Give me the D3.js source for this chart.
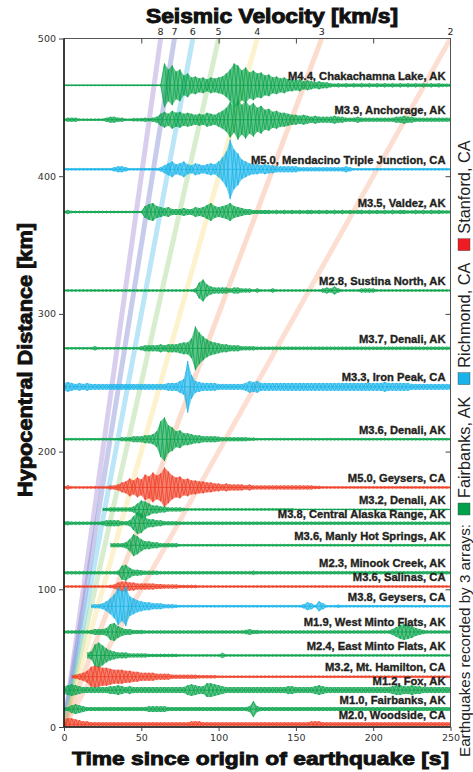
<!DOCTYPE html>
<html>
<head>
<meta charset="utf-8">
<script src="https://cdn.jsdelivr.net/npm/d3@7"></script>
<style>
  body { margin: 0; background: #fff; }
  svg { display: block; }
</style>
</head>
<body>
<svg id="chart" width="473" height="772"></svg>
<script>
// ---- axes ----
const timeTicks = [0, 50, 100, 150, 200, 250];
const distanceTicks = [0, 100, 200, 300, 400, 500];

// ---- apparent-velocity guide lines (km/s) ----
const velocities = [8, 7, 6, 5, 4, 3, 2];
const velocityColors = ["#9a7fd0", "#6f78cc", "#4cbcec", "#96cf7e", "#f6dc7c", "#f6a27c", "#f7a88a"];

// ---- recording arrays ----
const arrayNames = ["Fairbanks, AK", "Richmond, CA", "Stanford, CA"];
const arrayColors = ["#0aa44c", "#18b4ea", "#ef3f26"];
const legendSwatch = ["#00a04a", "#1ab2e8", "#ee1c24"];

// ---- earthquakes ----
const quakeLabels = [
  "M4.4, Chakachamna Lake, AK", "M3.9, Anchorage, AK", "M5.0, Mendacino Triple Junction, CA",
  "M3.5, Valdez, AK", "M2.8, Sustina North, AK", "M3.7, Denali, AK", "M3.3, Iron Peak, CA",
  "M3.6, Denali, AK", "M5.0, Geysers, CA", "M3.2, Denali, AK", "M3.8, Central Alaska Range, AK",
  "M3.6, Manly Hot Springs, AK", "M2.3, Minook Creek, AK", "M3.6, Salinas, CA", "M3.8, Geysers, CA",
  "M1.9, West Minto Flats, AK", "M2.4, East Minto Flats, AK", "M3.2, Mt. Hamilton, CA",
  "M1.2, Fox, AK", "M1.0, Fairbanks, AK", "M2.0, Woodside, CA"
];
const quakeDistances = [466, 441, 405, 374, 317, 275, 247, 209, 174, 158, 148, 132, 112, 102, 87.7, 69, 52, 36.5, 26.8, 13, 2];
const quakeArray = [0, 0, 1, 0, 0, 0, 1, 0, 2, 0, 0, 0, 0, 2, 1, 0, 0, 2, 0, 0, 2];

// Envelope of each seismogram, one character per 2.5 s window (0-9a-zA-Z = 0..61
// amplitude steps, "_" = no recording yet).
const envelopes = [
  "1111111111 1111111111 111111IwEs wkogiegcge giowIEuAqu oqkmgiegcc ac8a868664 3434343434 3434343434 3434343433",
  "2444222222 2466442233 34346cgcie gcecacaeca eioAqEuCsy oskmgieeca a8a8686666 8664446444 4444446686 6444444444",
  "2222222222 2224664222 2222248cga cga8ca8aca goAYEwkgca a8a8866666 6444444444 4446422222 2222222222 2222222222",
  "2422222222 2222222222 2cgica8a66 6866a8aeic aceica8664 4444343434 3434434343 4343434434 3434343443 3434343433",
  "2222222222 2222222222 2222222222 22224gmc86 6664664442 4222422222 2222222464 8422222444 4222222222 2222222222",
  "2222222242 2222222222 4666686888 acckIwoiec a886664444 3333333333 3333333333 3333333333 3333333333 3333333333",
  "8a86868666 6666666666 6666666888 cgQoca8888 66666668ca c888888888 8888888888 8888888888 888a888888 6666666666",
  "2222222222 2222244466 688agAIsog icca886666 5444444433 2222222222 2222222222 2222222222 2222222222 2222222222",
  "2422222222 22446aciek gqmuosEwok mgieeccaa8 8686666464 4444444444 4444433222 2222222222 2222222222 2222222222",
  "__________ 334444446c igc8866444 4322222222 2222222222 2222222222 1111111111 1111111111 1111111111 1111111111",
  "4433333333 46666446em kc88664444 3333333333 3333333333 3333333333 3333333333 3333333333 3333333333 3333333333",
  "__________ __44446cmi c886644444 2222222222 2222222222 2222222222 2222222222 2222222222 2222222222 2222222222",
  "3333333333 33334ega66 5444433333 3333333333 3333333334 3333333333 3333333333 3333333333 3333333333 3333333333",
  "2222222222 22348aa886 6666554444 3333322222 2222222222 2222222222 2222222222 2222222222 2222222222 2222222222",
  "_______344 6agoCuEkgc a886664443 2222222222 2222222222 2222222222 224862a622 2322222222 2222222222 2222222222",
  "3333333466 68gic86644 4333333333 3333333333 3333333464 4333333333 3333333333 3333333333 333336aege c864333333",
  "______68mq kea8666444 4433333333 2222222222 2522222222 2222222222 2222222222 2222222222 2222222222 2222222222",
  "__3468ckmk iigeeeccaa 8888666644 4444433333 2222222222 2222222222 2222222222 2222222222 2222222222 2222222222",
  "8aca866666 6688a86866 6666666666 66aca88eec a866666666 6666666688 666668a866 6666666666 666668aa88 a886666666",
  "448a864444 4444444444 4466666444 4444444444 444444446g 6444444444 4444444444 4444444444 4444444444 4444444444",
  "acca866444 4444444444 4444444444 4446664444 4444444444 4444444444 4444666444 4444444444 4444444444 4444444444"
];

const STEP_KM = 0.36;   // trace amplitude per envelope step
const DT = 2.5;         // seconds per envelope character
const LEVELS = "0123456789abcdefghijklmnopqrstuvwxyzABCDEFGHIJKLMNOPQRSTUVWXYZ";

// ---- layout ----
const svg = d3.select("#chart");
const plot = { left: 64, right: 450.5, top: 38.5, bottom: 727 };
const x = d3.scaleLinear().domain([0, 250]).range([plot.left, plot.right]);
const y = d3.scaleLinear().domain([0, 500]).range([plot.bottom, plot.top]);
const FONT = "'Liberation Sans', Arial, Helvetica, sans-serif";
const TICKFONT = "'DejaVu Sans', 'Liberation Sans', sans-serif";

svg.append("defs").append("clipPath").attr("id", "plotClip")
  .append("rect")
  .attr("x", plot.left).attr("y", plot.top)
  .attr("width", plot.right - plot.left).attr("height", plot.bottom - plot.top);

const inner = svg.append("g").attr("clip-path", "url(#plotClip)");

// velocity guide lines: distance = v * t
inner.append("g").selectAll("line")
  .data(velocities)
  .join("line")
  .attr("x1", x(0)).attr("y1", y(0))
  .attr("x2", v => x(500 / v)).attr("y2", y(500))
  .attr("stroke", (v, i) => velocityColors[i])
  .attr("stroke-opacity", 0.38)
  .attr("stroke-width", 5)
  .attr("stroke-linecap", "butt");

// seismograms: envelope fill with the oscillation drawn as crossing zigzags
const traceG = inner.append("g");
quakeLabels.forEach((label, k) => {
  const env = envelopes[k].replace(/ /g, "");
  const d0 = quakeDistances[k];
  const pts = [];
  for (let i = 0; i < env.length; i++) {
    if (env[i] === "_") continue;
    pts.push({ i, t: i * DT, a: LEVELS.indexOf(env[i]) * STEP_KM });
  }
  pts.push({ i: env.length, t: 250, a: pts[pts.length - 1].a });
  const color = arrayColors[quakeArray[k]];
  const area = d3.area()
    .x(p => x(p.t))
    .y0(p => y(d0 - p.a))
    .y1(p => y(d0 + p.a));
  traceG.append("path")
    .attr("d", area(pts))
    .attr("fill", color)
    .attr("fill-opacity", 0.65);
  traceG.append("line")
    .attr("x1", x(pts[0].t)).attr("x2", x(250))
    .attr("y1", y(d0)).attr("y2", y(d0))
    .attr("stroke", color).attr("stroke-width", 0.9);
  [1, -1].forEach(phase => {
    const wiggle = d3.line()
      .x(p => x(p.t))
      .y(p => y(d0 + (p.i % 2 ? -phase : phase) * p.a));
    traceG.append("path")
      .attr("d", wiggle(pts))
      .attr("fill", "none")
      .attr("stroke", color)
      .attr("stroke-width", 0.75);
  });
});

// earthquake labels
svg.append("g").selectAll("text")
  .data(quakeLabels)
  .join("text")
  .attr("x", x(250) - 5)
  .attr("y", (d, k) => y(quakeDistances[k]) - 5.5)
  .attr("text-anchor", "end")
  .attr("font-family", FONT)
  .attr("font-weight", "bold")
  .attr("font-size", 11.2)
  .attr("fill", "#231f20")
  .attr("stroke", "#231f20")
  .attr("stroke-width", 0.35)
  .text(d => d);

// frame
svg.append("rect")
  .attr("x", plot.left).attr("y", plot.top)
  .attr("width", plot.right - plot.left).attr("height", plot.bottom - plot.top)
  .attr("fill", "none").attr("stroke", "#555").attr("stroke-width", 1);
svg.append("path")
  .attr("d", `M${plot.left},${plot.top}V${plot.bottom}H${plot.right}`)
  .attr("fill", "none").attr("stroke", "#222").attr("stroke-width", 1.6);

// left axis
svg.append("g")
  .attr("transform", `translate(${plot.left},0)`)
  .call(d3.axisLeft(y).tickValues(distanceTicks).tickSize(5).tickPadding(3).tickFormat(d3.format("d")));
// bottom axis
svg.append("g")
  .attr("transform", `translate(0,${plot.bottom})`)
  .call(d3.axisBottom(x).tickValues(timeTicks).tickSize(4).tickPadding(3).tickFormat(d3.format("d")));
// inner ticks on top and right
svg.append("g")
  .attr("transform", `translate(0,${plot.top})`)
  .call(d3.axisTop(x).tickValues(timeTicks.slice(1, -1)).tickSize(-5).tickFormat(""));
svg.append("g")
  .attr("transform", `translate(${plot.right},0)`)
  .call(d3.axisRight(y).tickValues(distanceTicks.slice(1, -1)).tickSize(-5).tickFormat(""));
svg.selectAll(".domain").remove();
svg.selectAll(".tick line").attr("stroke", "#444");
svg.selectAll(".tick text")
  .attr("font-family", TICKFONT).attr("font-size", 9.5).attr("fill", "#333");

// velocity labels along the top edge
svg.append("g").selectAll("text")
  .data(velocities)
  .join("text")
  .attr("x", v => x(500 / v))
  .attr("y", plot.top - 4)
  .attr("text-anchor", "middle")
  .attr("font-family", TICKFONT)
  .attr("font-size", 9.5)
  .attr("fill", "#222")
  .text(v => v);

// titles
svg.append("text")
  .attr("x", 146).attr("y", 23)
  .attr("textLength", 252).attr("lengthAdjust", "spacingAndGlyphs")
  .attr("font-family", FONT).attr("font-weight", "bold").attr("font-size", 20)
  .attr("fill", "#111").attr("stroke", "#111").attr("stroke-width", 1)
  .text("Seismic Velocity [km/s]");

svg.append("text")
  .attr("x", 72).attr("y", 765)
  .attr("textLength", 377).attr("lengthAdjust", "spacingAndGlyphs")
  .attr("font-family", FONT).attr("font-weight", "bold").attr("font-size", 19)
  .attr("fill", "#111").attr("stroke", "#111").attr("stroke-width", 0.9)
  .text("Time since origin of earthquake [s]");

svg.append("text")
  .attr("transform", "translate(32,497) rotate(-90)")
  .attr("textLength", 274).attr("lengthAdjust", "spacingAndGlyphs")
  .attr("font-family", FONT).attr("font-weight", "bold").attr("font-size", 19.5)
  .attr("fill", "#111").attr("stroke", "#111").attr("stroke-width", 0.9)
  .text("Hypocentral Distance [km]");

// legend, stacked upward along the right edge
const legend = svg.append("g");
let pos = 757;
const baseX = 470;
const intro = legend.append("text")
  .attr("transform", `translate(${baseX},${pos}) rotate(-90)`)
  .attr("font-family", FONT).attr("font-size", 15.2).attr("fill", "#222")
  .text("Earthquakes recorded by 3 arrays:");
pos -= intro.node().getComputedTextLength() + 9;
arrayNames.forEach((name, i) => {
  legend.append("rect")
    .attr("x", baseX - 12).attr("y", pos - 12)
    .attr("width", 12).attr("height", 12)
    .attr("fill", legendSwatch[i]).attr("stroke", "#444").attr("stroke-width", 0.4);
  pos -= 12 + 5;
  const t = legend.append("text")
    .attr("transform", `translate(${baseX},${pos}) rotate(-90)`)
    .attr("font-family", FONT).attr("font-size", 16.3).attr("fill", "#222")
    .text(name);
  pos -= t.node().getComputedTextLength() + 12;
});
</script>
</body>
</html>
